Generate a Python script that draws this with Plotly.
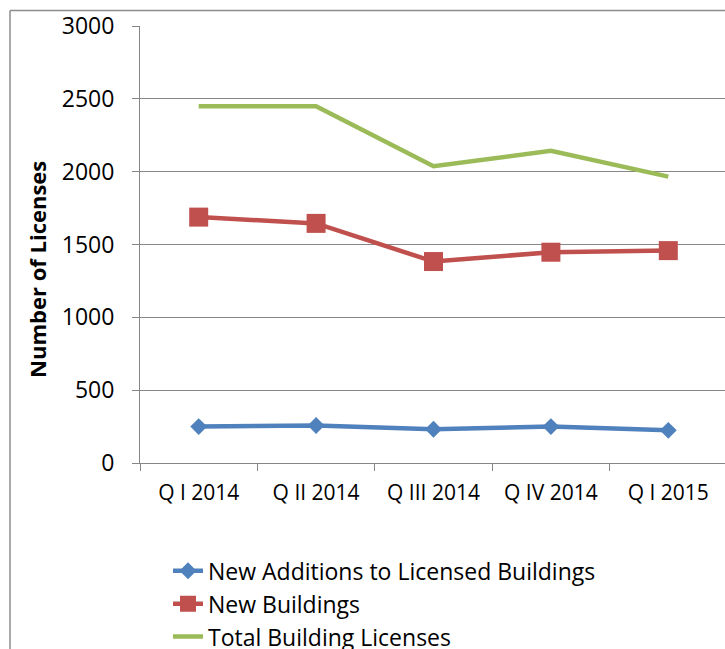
import plotly.graph_objects as go

categories = ["Q I 2014", "Q II 2014", "Q III 2014", "Q IV 2014", "Q I 2015"]
additions = [250, 257, 232, 250, 224]
new_buildings = [1688, 1645, 1383, 1447, 1458]
total_licenses = [2449, 2449, 2038, 2143, 1966]
y_ticks = [0, 500, 1000, 1500, 2000, 2500, 3000]

FONT = "Open Sans"
BLUE, RED, GREEN = "#4F81BD", "#C0504D", "#9BBB59"

fig = go.Figure()
fig.add_trace(go.Scatter(x=categories, y=additions, mode="lines+markers",
                         name="New Additions to Licensed Buildings",
                         line=dict(color=BLUE, width=4.5),
                         marker=dict(symbol="diamond", size=13, color=BLUE)))
fig.add_trace(go.Scatter(x=categories, y=new_buildings, mode="lines+markers",
                         name="New Buildings",
                         line=dict(color=RED, width=4.5),
                         marker=dict(symbol="square", size=19, color=RED)))
fig.add_trace(go.Scatter(x=categories, y=total_licenses, mode="lines",
                         name="Total Building Licenses",
                         line=dict(color=GREEN, width=4.5)))

L, T, B = 140, 25.5, 185.5
W, H = 725, 649
pw = W - L
ph = H - T - B

fig.update_layout(
    width=W, height=H,
    margin=dict(l=L, r=0, t=T, b=B, pad=0, autoexpand=False),
    paper_bgcolor="white", plot_bgcolor="white",
    font=dict(family=FONT, size=22, color="black"),
    showlegend=True,
    legend=dict(x=(168 - L) / pw, xanchor="left", y=(H - B - 550) / ph, yanchor="top",
                font=dict(family=FONT, size=23), tracegroupgap=0,
                bgcolor="rgba(0,0,0,0)", itemwidth=30),
    xaxis=dict(type="category", range=[-0.5, 4.483], showgrid=False,
               showline=True, linecolor="#868686", linewidth=1,
               ticks="outside", ticklen=7, tickcolor="#868686", tickson="boundaries",
               tickfont=dict(family=FONT, size=21), ticklabelstandoff=11,
               fixedrange=True, automargin=False),
    yaxis=dict(range=[0, 3000], tickvals=y_ticks, showgrid=True,
               gridcolor="#868686", gridwidth=1,
               showline=True, linecolor="#868686", linewidth=1,
               ticks="outside", ticklen=7, tickcolor="#868686",
               tickfont=dict(family=FONT, size=23), ticklabelstandoff=13,
               zeroline=False, fixedrange=True, automargin=False),
    annotations=[dict(text="<b>Number of Licenses</b>", xref="paper", yref="paper",
                      x=(37 - L) / pw, y=(H - B - 269) / ph, textangle=-90,
                      showarrow=False, font=dict(family=FONT, size=22),
                      xanchor="center", yanchor="middle")],
    shapes=[
        dict(type="line", xref="paper", yref="paper",
             x0=(10 - L) / pw, x1=(10 - L) / pw, y0=(H - B - 10) / ph, y1=(H - B - 700) / ph,
             line=dict(color="#8c8c8c", width=1.5)),
        dict(type="line", xref="paper", yref="paper",
             x0=(10 - L) / pw, x1=(760 - L) / pw, y0=(H - B - 10) / ph, y1=(H - B - 10) / ph,
             line=dict(color="#8c8c8c", width=1.5)),
    ],
)

fig.write_html("out.html", config={"displayModeBar": False},
               post_script="document.body.style.margin='0';document.body.style.overflow='hidden';")
